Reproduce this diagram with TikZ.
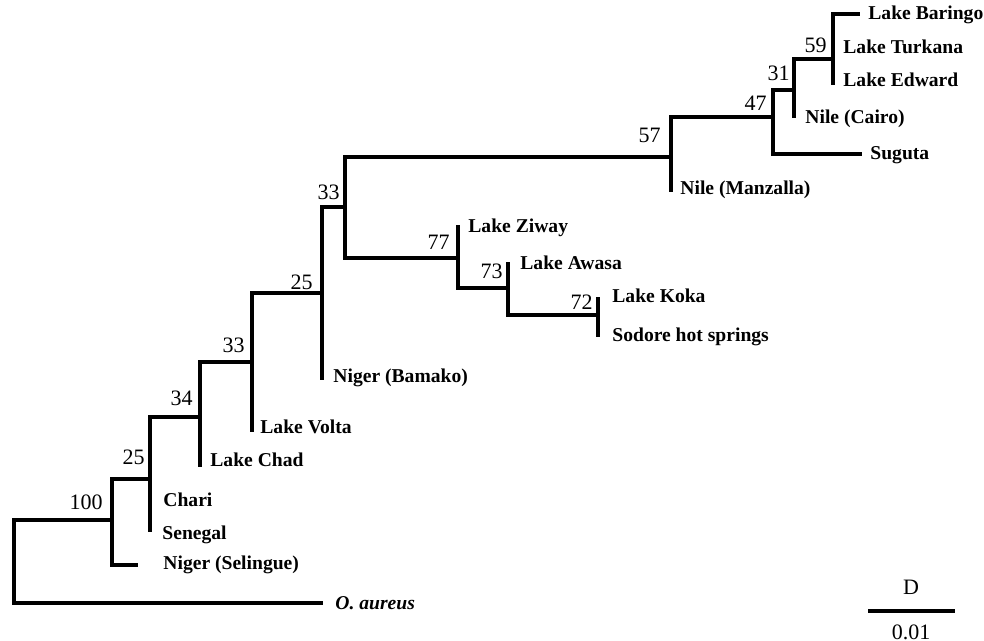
\documentclass[tikz,border=0pt]{standalone}
\usepackage{fontspec}
\setmainfont{Liberation Serif}
\tikzstyle{branch}=[line width=1.6pt]
\tikzstyle{taxon}=[anchor=west,inner sep=0pt,font=\fontsize{9.8}{11}\selectfont\bfseries]
\tikzstyle{boot}=[anchor=east,inner sep=0pt,font=\fontsize{11}{12}\selectfont]
\tikzstyle{scalebar}=[line width=1.6pt]

\begin{document}
\begin{tikzpicture}[x=0.5pt,y=-0.5pt]
  \useasboundingbox (0,0) rectangle (984,641);

  % INTERNAL NODES
  \coordinate (root) at (14,561);
  \coordinate (n100) at (112,520);
  \coordinate (n25a) at (150,479);
  \coordinate (n34)  at (200,417);
  \coordinate (n33a) at (252,362);
  \coordinate (n25b) at (322,293);
  \coordinate (n33b) at (345,207);
  \coordinate (n57)  at (671,157);
  \coordinate (n47)  at (773,117);
  \coordinate (n31)  at (794,90);
  \coordinate (n59)  at (833,59);
  \coordinate (n77)  at (458,258);
  \coordinate (n73)  at (508,288);
  \coordinate (n72)  at (598,315);

  % TIPS
  \coordinate (tBaringo)  at (860,14);
  \coordinate (tEdward)   at (833,85);
  \coordinate (tCairo)    at (794,118);
  \coordinate (tSuguta)   at (862,154);
  \coordinate (tManzalla) at (671,192);
  \coordinate (tZiway)    at (458,225);
  \coordinate (tAwasa)    at (508,262);
  \coordinate (tKoka)     at (598,297);
  \coordinate (tSodore)   at (598,337);
  \coordinate (tBamako)   at (322,380);
  \coordinate (tVolta)    at (252,432);
  \coordinate (tChad)     at (200,467);
  \coordinate (tSenegal)  at (150,532);
  \coordinate (tSelingue) at (138,565);
  \coordinate (tAureus)   at (323,603);

  % BRANCHES
  \draw[branch] (root) |- (n100);
  \draw[branch] (root) |- (tAureus);
  \draw[branch] (n100) |- (n25a);
  \draw[branch] (n100) |- (tSelingue);
  \draw[branch] (n25a) |- (n34);
  \draw[branch] (n25a) |- (tSenegal);
  \draw[branch] (n34) |- (n33a);
  \draw[branch] (n34) |- (tChad);
  \draw[branch] (n33a) |- (n25b);
  \draw[branch] (n33a) |- (tVolta);
  \draw[branch] (n25b) |- (n33b);
  \draw[branch] (n25b) |- (tBamako);
  \draw[branch] (n33b) |- (n57);
  \draw[branch] (n33b) |- (n77);
  \draw[branch] (n57) |- (n47);
  \draw[branch] (n57) |- (tManzalla);
  \draw[branch] (n47) |- (n31);
  \draw[branch] (n47) |- (tSuguta);
  \draw[branch] (n31) |- (n59);
  \draw[branch] (n31) |- (tCairo);
  \draw[branch] (n59) |- (tBaringo);
  \draw[branch] (n59) |- (tEdward);
  \draw[branch] (n77) |- (tZiway);
  \draw[branch] (n77) |- (n73);
  \draw[branch] (n73) |- (tAwasa);
  \draw[branch] (n73) |- (n72);
  \draw[branch] (n72) |- (tKoka);
  \draw[branch] (n72) |- (tSodore);

  % TAXA
  \node[taxon] (Baringo)  at (868,15)  {Lake Baringo};
  \node[taxon] (Turkana)  at (843,47)  {Lake Turkana};
  \node[taxon] (Edward)   at (843,80)  {Lake Edward};
  \node[taxon] (Cairo)    at (805,119) {Nile (Cairo)};
  \node[taxon] (Suguta)   at (870,155) {Suguta};
  \node[taxon] (Manzalla) at (680,190) {Nile (Manzalla)};
  \node[taxon] (Ziway)    at (468,228) {Lake Ziway};
  \node[taxon] (Awasa)    at (520,263) {Lake Awasa};
  \node[taxon] (Koka)     at (612,296) {Lake Koka};
  \node[taxon] (Sodore)   at (612,337) {Sodore hot springs};
  \node[taxon] (Bamako)   at (333,378) {Niger (Bamako)};
  \node[taxon] (Volta)    at (260,427) {Lake Volta};
  \node[taxon] (Chad)     at (210,460) {Lake Chad};
  \node[taxon] (Chari)    at (163,500) {Chari};
  \node[taxon] (Senegal)  at (162,535) {Senegal};
  \node[taxon] (Selingue) at (163,565) {Niger (Selingue)};
  \node[taxon] (Aureus)   at (335,603) {\itshape O. aureus};

  % BOOTSTRAP
  \node[boot] (b100) at (103,502) {100};
  \node[boot] (b25a) at (145,457) {25};
  \node[boot] (b34)  at (193,398) {34};
  \node[boot] (b33a) at (245,345) {33};
  \node[boot] (b25b) at (313,282) {25};
  \node[boot] (b33b) at (340,192) {33};
  \node[boot] (b57)  at (661,135) {57};
  \node[boot] (b47)  at (767,103) {47};
  \node[boot] (b31)  at (790,73)  {31};
  \node[boot] (b59)  at (827,45)  {59};
  \node[boot] (b77)  at (450,242) {77};
  \node[boot] (b73)  at (503,271) {73};
  \node[boot] (b72)  at (593,302) {72};

  % SCALE
  \coordinate (s1) at (868,611);
  \coordinate (s2) at (955,611);
  \draw[scalebar] (s1) -- (s2);
  \node[font=\fontsize{11}{12}\selectfont] (D) at (911,587) {D};
  \node[font=\fontsize{11}{12}\selectfont] (unit) at (911,632) {0.01};
\end{tikzpicture}
\end{document}
